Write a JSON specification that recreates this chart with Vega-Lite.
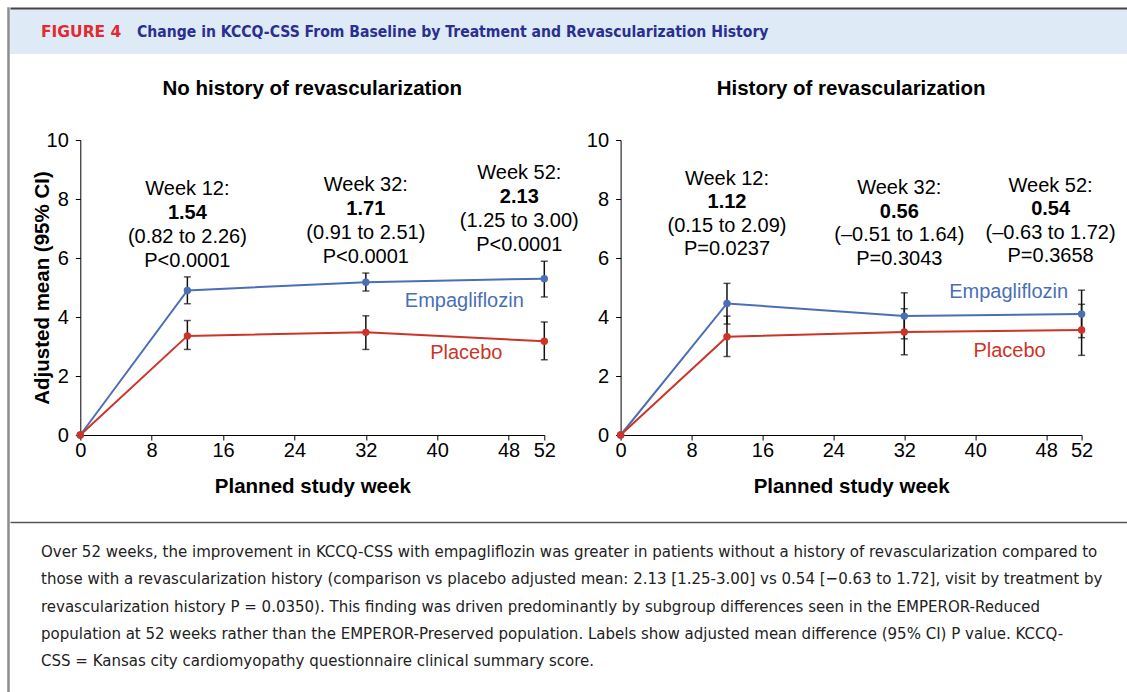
{
  "$schema": "https://vega.github.io/schema/vega-lite/v6.json",
  "padding": {"left": 7, "top": 7, "right": 0, "bottom": 0},
  "background": "white",
  "spacing": 0,
  "config": {"font": "Liberation Sans", "view": {"stroke": null}, "axis": {"grid": false}},
  "datasets": {
    "pts": [
      {"panel": "none", "treatment": "Empagliflozin", "week": 0, "mean": 0},
      {"panel": "none", "treatment": "Empagliflozin", "week": 12, "mean": 4.90, "lo": 4.45, "hi": 5.36, "head": "Week 12:", "est": "1.54", "ci": "(0.82 to 2.26)", "p": "P<0.0001"},
      {"panel": "none", "treatment": "Empagliflozin", "week": 32, "mean": 5.18, "lo": 4.88, "hi": 5.49, "head": "Week 32:", "est": "1.71", "ci": "(0.91 to 2.51)", "p": "P<0.0001"},
      {"panel": "none", "treatment": "Empagliflozin", "week": 52, "mean": 5.30, "lo": 4.68, "hi": 5.89, "head": "Week 52:", "est": "2.13", "ci": "(1.25 to 3.00)", "p": "P<0.0001"},
      {"panel": "none", "treatment": "Placebo", "week": 0, "mean": 0},
      {"panel": "none", "treatment": "Placebo", "week": 12, "mean": 3.36, "lo": 2.90, "hi": 3.88},
      {"panel": "none", "treatment": "Placebo", "week": 32, "mean": 3.48, "lo": 2.90, "hi": 4.04},
      {"panel": "none", "treatment": "Placebo", "week": 52, "mean": 3.18, "lo": 2.55, "hi": 3.83},
      {"panel": "hist", "treatment": "Empagliflozin", "week": 0, "mean": 0},
      {"panel": "hist", "treatment": "Empagliflozin", "week": 12, "mean": 4.46, "lo": 3.76, "hi": 5.14, "head": "Week 12:", "est": "1.12", "ci": "(0.15 to 2.09)", "p": "P=0.0237"},
      {"panel": "hist", "treatment": "Empagliflozin", "week": 32, "mean": 4.03, "lo": 3.26, "hi": 4.82, "head": "Week 32:", "est": "0.56", "ci": "(–0.51 to 1.64)", "p": "P=0.3043"},
      {"panel": "hist", "treatment": "Empagliflozin", "week": 52, "mean": 4.10, "lo": 3.30, "hi": 4.91, "head": "Week 52:", "est": "0.54", "ci": "(–0.63 to 1.72)", "p": "P=0.3658"},
      {"panel": "hist", "treatment": "Placebo", "week": 0, "mean": 0},
      {"panel": "hist", "treatment": "Placebo", "week": 12, "mean": 3.33, "lo": 2.66, "hi": 4.03},
      {"panel": "hist", "treatment": "Placebo", "week": 32, "mean": 3.49, "lo": 2.72, "hi": 4.28},
      {"panel": "hist", "treatment": "Placebo", "week": 52, "mean": 3.56, "lo": 2.70, "hi": 4.43}
    ]
  },
  "hconcat": [
    {
      "width": 1,
      "height": 700,
      "view": {"stroke": "#8c8c8c", "strokeWidth": 1.5},
      "data": {"values": [{}]},
      "mark": {"type": "point", "opacity": 0, "size": 0}
    },
    {
      "spacing": 0,
      "vconcat": [
        {
          "width": 1120,
          "height": 46,
          "view": {"fill": "#deeaf6", "stroke": null},
          "data": {"values": [{"fig": "FIGURE 4", "title": "Change in KCCQ-CSS From Baseline by Treatment and Revascularization History"}]},
          "layer": [
            {
              "mark": {"type": "point", "opacity": 0, "size": 0},
              "encoding": {
                "x": {"datum": 0, "type": "quantitative", "scale": {"domain": [0, 1]}, "axis": {"orient": "top", "domainColor": "#444444", "domainWidth": 2, "ticks": false, "labels": false, "grid": false, "title": null}}
              }
            },
            {
              "mark": {"type": "text", "align": "left", "baseline": "middle", "font": "DejaVu Sans", "fontWeight": "bold", "fontSize": 15.5, "color": "#e12b34"},
              "encoding": {"text": {"field": "fig"}, "x": {"value": 31}, "y": {"value": 24}}
            },
            {
              "mark": {"type": "text", "align": "left", "baseline": "middle", "font": "DejaVu Sans Condensed", "fontWeight": "bold", "fontSize": 15.6, "color": "#2b2f8f"},
              "encoding": {"text": {"field": "title"}, "x": {"value": 127}, "y": {"value": 24}}
            }
          ]
        },
        {
          "spacing": 6.3,
          "hconcat": [
            {
              "width": 15,
              "height": 382,
              "data": {"values": [{}]},
              "mark": {"type": "point", "opacity": 0, "size": 0}
            },
            {
              "width": 464,
              "height": 295,
              "title": {"text": ["", "No history of revascularization"], "fontSize": 20.5, "fontWeight": "bold", "font": "Liberation Sans", "lineHeight": 24, "offset": 31, "anchor": "middle", "frame": "group", "color": "black"},
              "data": {"name": "pts"},
              "transform": [{"filter": "datum.panel == 'none'"}],
              "encoding": {
                "x": {"field": "week", "type": "quantitative", "scale": {"domain": [0, 52], "nice": false},
                  "axis": {"values": [0, 8, 16, 24, 32, 40, 48, 52], "title": "Planned study week", "titleFontSize": 20.5, "titleFontWeight": "bold", "titleColor": "black", "titlePadding": 16, "labelFontSize": 20, "labelColor": "black", "labelPadding": 0, "tickSize": 5, "tickColor": "black", "domainColor": "black", "labelOverlap": false, "labelFlush": false, "grid": false}}
              },
              "layer": [
                {
                  "transform": [{"filter": "datum.week > 0"}],
                  "mark": {"type": "errorbar", "color": "#111111", "thickness": 1.5, "ticks": {"size": 7}},
                  "encoding": {
                    "y": {"field": "lo", "type": "quantitative", "scale": {"domain": [0, 10], "nice": false},
                      "axis": {"values": [0, 2, 4, 6, 8, 10], "title": "Adjusted mean (95% CI)", "titleFontSize": 20.5, "titleFontWeight": "bold", "titleColor": "black", "titlePadding": -6, "labelFontSize": 20, "labelColor": "black", "labelPadding": 7, "tickSize": 5, "tickColor": "black", "domainColor": "black", "grid": false}},
                    "y2": {"field": "hi"}
                  }
                },
                {
                  "mark": {"type": "line", "strokeWidth": 2, "point": {"filled": true, "size": 55}},
                  "encoding": {
                    "y": {"field": "mean", "type": "quantitative", "scale": {"domain": [0, 10], "nice": false},
                      "axis": {"values": [0, 2, 4, 6, 8, 10], "title": "Adjusted mean (95% CI)", "titleFontSize": 20.5, "titleFontWeight": "bold", "titleColor": "black", "titlePadding": -6, "labelFontSize": 20, "labelColor": "black", "labelPadding": 7, "tickSize": 5, "tickColor": "black", "domainColor": "black", "grid": false}},
                    "color": {"field": "treatment", "type": "nominal", "scale": {"domain": ["Empagliflozin", "Placebo"], "range": ["#4a6fb5", "#cc3428"]}, "legend": null}
                  }
                },
                {"transform": [{"filter": "datum.treatment == 'Empagliflozin' && datum.week > 0 && datum.week < 52"}], "mark": {"type": "text", "fontSize": 20, "baseline": "middle", "color": "black", "dy": -88}, "encoding": {"y": {"field": "hi", "type": "quantitative", "scale": {"domain": [0, 10], "nice": false}, "axis": {"values": [0, 2, 4, 6, 8, 10], "title": "Adjusted mean (95% CI)", "titleFontSize": 20.5, "titleFontWeight": "bold", "titleColor": "black", "titlePadding": -6, "labelFontSize": 20, "labelColor": "black", "labelPadding": 7, "tickSize": 5, "tickColor": "black", "domainColor": "black", "grid": false}}, "text": {"field": "head"}}},
                {"transform": [{"filter": "datum.treatment == 'Empagliflozin' && datum.week > 0 && datum.week < 52"}], "mark": {"type": "text", "fontSize": 20, "fontWeight": "bold", "baseline": "middle", "color": "black", "dy": -64}, "encoding": {"y": {"field": "hi", "type": "quantitative", "scale": {"domain": [0, 10], "nice": false}, "axis": {"values": [0, 2, 4, 6, 8, 10], "title": "Adjusted mean (95% CI)", "titleFontSize": 20.5, "titleFontWeight": "bold", "titleColor": "black", "titlePadding": -6, "labelFontSize": 20, "labelColor": "black", "labelPadding": 7, "tickSize": 5, "tickColor": "black", "domainColor": "black", "grid": false}}, "text": {"field": "est"}}},
                {"transform": [{"filter": "datum.treatment == 'Empagliflozin' && datum.week > 0 && datum.week < 52"}], "mark": {"type": "text", "fontSize": 20, "baseline": "middle", "color": "black", "dy": -40}, "encoding": {"y": {"field": "hi", "type": "quantitative", "scale": {"domain": [0, 10], "nice": false}, "axis": {"values": [0, 2, 4, 6, 8, 10], "title": "Adjusted mean (95% CI)", "titleFontSize": 20.5, "titleFontWeight": "bold", "titleColor": "black", "titlePadding": -6, "labelFontSize": 20, "labelColor": "black", "labelPadding": 7, "tickSize": 5, "tickColor": "black", "domainColor": "black", "grid": false}}, "text": {"field": "ci"}}},
                {"transform": [{"filter": "datum.treatment == 'Empagliflozin' && datum.week > 0 && datum.week < 52"}], "mark": {"type": "text", "fontSize": 20, "baseline": "middle", "color": "black", "dy": -16}, "encoding": {"y": {"field": "hi", "type": "quantitative", "scale": {"domain": [0, 10], "nice": false}, "axis": {"values": [0, 2, 4, 6, 8, 10], "title": "Adjusted mean (95% CI)", "titleFontSize": 20.5, "titleFontWeight": "bold", "titleColor": "black", "titlePadding": -6, "labelFontSize": 20, "labelColor": "black", "labelPadding": 7, "tickSize": 5, "tickColor": "black", "domainColor": "black", "grid": false}}, "text": {"field": "p"}}},
                {"transform": [{"filter": "datum.treatment == 'Empagliflozin' && datum.week == 52"}], "mark": {"type": "text", "fontSize": 20, "baseline": "middle", "color": "black", "dx": -25, "dy": -88}, "encoding": {"y": {"field": "hi", "type": "quantitative", "scale": {"domain": [0, 10], "nice": false}, "axis": {"values": [0, 2, 4, 6, 8, 10], "title": "Adjusted mean (95% CI)", "titleFontSize": 20.5, "titleFontWeight": "bold", "titleColor": "black", "titlePadding": -6, "labelFontSize": 20, "labelColor": "black", "labelPadding": 7, "tickSize": 5, "tickColor": "black", "domainColor": "black", "grid": false}}, "text": {"field": "head"}}},
                {"transform": [{"filter": "datum.treatment == 'Empagliflozin' && datum.week == 52"}], "mark": {"type": "text", "fontSize": 20, "fontWeight": "bold", "baseline": "middle", "color": "black", "dx": -25, "dy": -64}, "encoding": {"y": {"field": "hi", "type": "quantitative", "scale": {"domain": [0, 10], "nice": false}, "axis": {"values": [0, 2, 4, 6, 8, 10], "title": "Adjusted mean (95% CI)", "titleFontSize": 20.5, "titleFontWeight": "bold", "titleColor": "black", "titlePadding": -6, "labelFontSize": 20, "labelColor": "black", "labelPadding": 7, "tickSize": 5, "tickColor": "black", "domainColor": "black", "grid": false}}, "text": {"field": "est"}}},
                {"transform": [{"filter": "datum.treatment == 'Empagliflozin' && datum.week == 52"}], "mark": {"type": "text", "fontSize": 20, "baseline": "middle", "color": "black", "dx": -25, "dy": -40}, "encoding": {"y": {"field": "hi", "type": "quantitative", "scale": {"domain": [0, 10], "nice": false}, "axis": {"values": [0, 2, 4, 6, 8, 10], "title": "Adjusted mean (95% CI)", "titleFontSize": 20.5, "titleFontWeight": "bold", "titleColor": "black", "titlePadding": -6, "labelFontSize": 20, "labelColor": "black", "labelPadding": 7, "tickSize": 5, "tickColor": "black", "domainColor": "black", "grid": false}}, "text": {"field": "ci"}}},
                {"transform": [{"filter": "datum.treatment == 'Empagliflozin' && datum.week == 52"}], "mark": {"type": "text", "fontSize": 20, "baseline": "middle", "color": "black", "dx": -25, "dy": -16}, "encoding": {"y": {"field": "hi", "type": "quantitative", "scale": {"domain": [0, 10], "nice": false}, "axis": {"values": [0, 2, 4, 6, 8, 10], "title": "Adjusted mean (95% CI)", "titleFontSize": 20.5, "titleFontWeight": "bold", "titleColor": "black", "titlePadding": -6, "labelFontSize": 20, "labelColor": "black", "labelPadding": 7, "tickSize": 5, "tickColor": "black", "domainColor": "black", "grid": false}}, "text": {"field": "p"}}},
                {"transform": [{"filter": "datum.treatment == 'Empagliflozin' && datum.week == 52"}], "mark": {"type": "text", "fontSize": 20, "baseline": "middle", "dx": -80, "dy": 22}, "encoding": {"y": {"field": "mean", "type": "quantitative", "scale": {"domain": [0, 10], "nice": false}, "axis": {"values": [0, 2, 4, 6, 8, 10], "title": "Adjusted mean (95% CI)", "titleFontSize": 20.5, "titleFontWeight": "bold", "titleColor": "black", "titlePadding": -6, "labelFontSize": 20, "labelColor": "black", "labelPadding": 7, "tickSize": 5, "tickColor": "black", "domainColor": "black", "grid": false}}, "text": {"field": "treatment"}, "color": {"field": "treatment", "type": "nominal", "scale": {"domain": ["Empagliflozin", "Placebo"], "range": ["#4a6fb5", "#cc3428"]}, "legend": null}}},
                {"transform": [{"filter": "datum.treatment == 'Placebo' && datum.week == 52"}], "mark": {"type": "text", "fontSize": 20, "baseline": "middle", "dx": -78, "dy": 12}, "encoding": {"y": {"field": "mean", "type": "quantitative", "scale": {"domain": [0, 10], "nice": false}, "axis": {"values": [0, 2, 4, 6, 8, 10], "title": "Adjusted mean (95% CI)", "titleFontSize": 20.5, "titleFontWeight": "bold", "titleColor": "black", "titlePadding": -6, "labelFontSize": 20, "labelColor": "black", "labelPadding": 7, "tickSize": 5, "tickColor": "black", "domainColor": "black", "grid": false}}, "text": {"field": "treatment"}, "color": {"field": "treatment", "type": "nominal", "scale": {"domain": ["Empagliflozin", "Placebo"], "range": ["#4a6fb5", "#cc3428"]}, "legend": null}}}
              ]
            },
            {
              "width": 461,
              "height": 295,
              "title": {"text": ["", "History of revascularization"], "fontSize": 20.5, "fontWeight": "bold", "font": "Liberation Sans", "lineHeight": 24, "offset": 31, "anchor": "middle", "frame": "group", "color": "black"},
              "data": {"name": "pts"},
              "transform": [{"filter": "datum.panel == 'hist'"}],
              "encoding": {
                "x": {"field": "week", "type": "quantitative", "scale": {"domain": [0, 52], "nice": false},
                  "axis": {"values": [0, 8, 16, 24, 32, 40, 48, 52], "title": "Planned study week", "titleFontSize": 20.5, "titleFontWeight": "bold", "titleColor": "black", "titlePadding": 16, "labelFontSize": 20, "labelColor": "black", "labelPadding": 0, "tickSize": 5, "tickColor": "black", "domainColor": "black", "labelOverlap": false, "labelFlush": false, "grid": false}}
              },
              "layer": [
                {
                  "transform": [{"filter": "datum.week > 0"}],
                  "mark": {"type": "errorbar", "color": "#111111", "thickness": 1.5, "ticks": {"size": 7}},
                  "encoding": {
                    "y": {"field": "lo", "type": "quantitative", "scale": {"domain": [0, 10], "nice": false}, "axis": {"values": [0, 2, 4, 6, 8, 10], "title": null, "labelFontSize": 20, "labelColor": "black", "labelPadding": 7, "tickSize": 5, "tickColor": "black", "domainColor": "black", "grid": false}},
                    "y2": {"field": "hi"}
                  }
                },
                {
                  "mark": {"type": "line", "strokeWidth": 2, "point": {"filled": true, "size": 55}},
                  "encoding": {
                    "y": {"field": "mean", "type": "quantitative", "scale": {"domain": [0, 10], "nice": false}, "axis": {"values": [0, 2, 4, 6, 8, 10], "title": null, "labelFontSize": 20, "labelColor": "black", "labelPadding": 7, "tickSize": 5, "tickColor": "black", "domainColor": "black", "grid": false}},
                    "color": {"field": "treatment", "type": "nominal", "scale": {"domain": ["Empagliflozin", "Placebo"], "range": ["#4a6fb5", "#cc3428"]}, "legend": null}
                  }
                },
                {"transform": [{"filter": "datum.treatment == 'Empagliflozin' && datum.week == 12"}], "mark": {"type": "text", "fontSize": 20, "baseline": "middle", "color": "black", "dy": -104.5}, "encoding": {"y": {"field": "hi", "type": "quantitative", "scale": {"domain": [0, 10], "nice": false}, "axis": {"values": [0, 2, 4, 6, 8, 10], "title": null, "labelFontSize": 20, "labelColor": "black", "labelPadding": 7, "tickSize": 5, "tickColor": "black", "domainColor": "black", "grid": false}}, "text": {"field": "head"}}},
                {"transform": [{"filter": "datum.treatment == 'Empagliflozin' && datum.week == 12"}], "mark": {"type": "text", "fontSize": 20, "fontWeight": "bold", "baseline": "middle", "color": "black", "dy": -81}, "encoding": {"y": {"field": "hi", "type": "quantitative", "scale": {"domain": [0, 10], "nice": false}, "axis": {"values": [0, 2, 4, 6, 8, 10], "title": null, "labelFontSize": 20, "labelColor": "black", "labelPadding": 7, "tickSize": 5, "tickColor": "black", "domainColor": "black", "grid": false}}, "text": {"field": "est"}}},
                {"transform": [{"filter": "datum.treatment == 'Empagliflozin' && datum.week == 12"}], "mark": {"type": "text", "fontSize": 20, "baseline": "middle", "color": "black", "dy": -57.5}, "encoding": {"y": {"field": "hi", "type": "quantitative", "scale": {"domain": [0, 10], "nice": false}, "axis": {"values": [0, 2, 4, 6, 8, 10], "title": null, "labelFontSize": 20, "labelColor": "black", "labelPadding": 7, "tickSize": 5, "tickColor": "black", "domainColor": "black", "grid": false}}, "text": {"field": "ci"}}},
                {"transform": [{"filter": "datum.treatment == 'Empagliflozin' && datum.week == 12"}], "mark": {"type": "text", "fontSize": 20, "baseline": "middle", "color": "black", "dy": -34}, "encoding": {"y": {"field": "hi", "type": "quantitative", "scale": {"domain": [0, 10], "nice": false}, "axis": {"values": [0, 2, 4, 6, 8, 10], "title": null, "labelFontSize": 20, "labelColor": "black", "labelPadding": 7, "tickSize": 5, "tickColor": "black", "domainColor": "black", "grid": false}}, "text": {"field": "p"}}},
                {"transform": [{"filter": "datum.treatment == 'Empagliflozin' && datum.week == 32"}], "mark": {"type": "text", "fontSize": 20, "baseline": "middle", "color": "black", "dx": -5, "dy": -104.5}, "encoding": {"y": {"field": "hi", "type": "quantitative", "scale": {"domain": [0, 10], "nice": false}, "axis": {"values": [0, 2, 4, 6, 8, 10], "title": null, "labelFontSize": 20, "labelColor": "black", "labelPadding": 7, "tickSize": 5, "tickColor": "black", "domainColor": "black", "grid": false}}, "text": {"field": "head"}}},
                {"transform": [{"filter": "datum.treatment == 'Empagliflozin' && datum.week == 32"}], "mark": {"type": "text", "fontSize": 20, "fontWeight": "bold", "baseline": "middle", "color": "black", "dx": -5, "dy": -81}, "encoding": {"y": {"field": "hi", "type": "quantitative", "scale": {"domain": [0, 10], "nice": false}, "axis": {"values": [0, 2, 4, 6, 8, 10], "title": null, "labelFontSize": 20, "labelColor": "black", "labelPadding": 7, "tickSize": 5, "tickColor": "black", "domainColor": "black", "grid": false}}, "text": {"field": "est"}}},
                {"transform": [{"filter": "datum.treatment == 'Empagliflozin' && datum.week == 32"}], "mark": {"type": "text", "fontSize": 20, "baseline": "middle", "color": "black", "dx": -5, "dy": -57.5}, "encoding": {"y": {"field": "hi", "type": "quantitative", "scale": {"domain": [0, 10], "nice": false}, "axis": {"values": [0, 2, 4, 6, 8, 10], "title": null, "labelFontSize": 20, "labelColor": "black", "labelPadding": 7, "tickSize": 5, "tickColor": "black", "domainColor": "black", "grid": false}}, "text": {"field": "ci"}}},
                {"transform": [{"filter": "datum.treatment == 'Empagliflozin' && datum.week == 32"}], "mark": {"type": "text", "fontSize": 20, "baseline": "middle", "color": "black", "dx": -5, "dy": -34}, "encoding": {"y": {"field": "hi", "type": "quantitative", "scale": {"domain": [0, 10], "nice": false}, "axis": {"values": [0, 2, 4, 6, 8, 10], "title": null, "labelFontSize": 20, "labelColor": "black", "labelPadding": 7, "tickSize": 5, "tickColor": "black", "domainColor": "black", "grid": false}}, "text": {"field": "p"}}},
                {"transform": [{"filter": "datum.treatment == 'Empagliflozin' && datum.week == 52"}], "mark": {"type": "text", "fontSize": 20, "baseline": "middle", "color": "black", "dx": -31, "dy": -104.5}, "encoding": {"y": {"field": "hi", "type": "quantitative", "scale": {"domain": [0, 10], "nice": false}, "axis": {"values": [0, 2, 4, 6, 8, 10], "title": null, "labelFontSize": 20, "labelColor": "black", "labelPadding": 7, "tickSize": 5, "tickColor": "black", "domainColor": "black", "grid": false}}, "text": {"field": "head"}}},
                {"transform": [{"filter": "datum.treatment == 'Empagliflozin' && datum.week == 52"}], "mark": {"type": "text", "fontSize": 20, "fontWeight": "bold", "baseline": "middle", "color": "black", "dx": -31, "dy": -81}, "encoding": {"y": {"field": "hi", "type": "quantitative", "scale": {"domain": [0, 10], "nice": false}, "axis": {"values": [0, 2, 4, 6, 8, 10], "title": null, "labelFontSize": 20, "labelColor": "black", "labelPadding": 7, "tickSize": 5, "tickColor": "black", "domainColor": "black", "grid": false}}, "text": {"field": "est"}}},
                {"transform": [{"filter": "datum.treatment == 'Empagliflozin' && datum.week == 52"}], "mark": {"type": "text", "fontSize": 20, "baseline": "middle", "color": "black", "dx": -31, "dy": -57.5}, "encoding": {"y": {"field": "hi", "type": "quantitative", "scale": {"domain": [0, 10], "nice": false}, "axis": {"values": [0, 2, 4, 6, 8, 10], "title": null, "labelFontSize": 20, "labelColor": "black", "labelPadding": 7, "tickSize": 5, "tickColor": "black", "domainColor": "black", "grid": false}}, "text": {"field": "ci"}}},
                {"transform": [{"filter": "datum.treatment == 'Empagliflozin' && datum.week == 52"}], "mark": {"type": "text", "fontSize": 20, "baseline": "middle", "color": "black", "dx": -31, "dy": -34}, "encoding": {"y": {"field": "hi", "type": "quantitative", "scale": {"domain": [0, 10], "nice": false}, "axis": {"values": [0, 2, 4, 6, 8, 10], "title": null, "labelFontSize": 20, "labelColor": "black", "labelPadding": 7, "tickSize": 5, "tickColor": "black", "domainColor": "black", "grid": false}}, "text": {"field": "p"}}},
                {"transform": [{"filter": "datum.treatment == 'Empagliflozin' && datum.week == 52"}], "mark": {"type": "text", "fontSize": 20, "baseline": "middle", "dx": -73, "dy": -22}, "encoding": {"y": {"field": "mean", "type": "quantitative", "scale": {"domain": [0, 10], "nice": false}, "axis": {"values": [0, 2, 4, 6, 8, 10], "title": null, "labelFontSize": 20, "labelColor": "black", "labelPadding": 7, "tickSize": 5, "tickColor": "black", "domainColor": "black", "grid": false}}, "text": {"field": "treatment"}, "color": {"field": "treatment", "type": "nominal", "scale": {"domain": ["Empagliflozin", "Placebo"], "range": ["#4a6fb5", "#cc3428"]}, "legend": null}}},
                {"transform": [{"filter": "datum.treatment == 'Placebo' && datum.week == 52"}], "mark": {"type": "text", "fontSize": 20, "baseline": "middle", "dx": -72, "dy": 21}, "encoding": {"y": {"field": "mean", "type": "quantitative", "scale": {"domain": [0, 10], "nice": false}, "axis": {"values": [0, 2, 4, 6, 8, 10], "title": null, "labelFontSize": 20, "labelColor": "black", "labelPadding": 7, "tickSize": 5, "tickColor": "black", "domainColor": "black", "grid": false}}, "text": {"field": "treatment"}, "color": {"field": "treatment", "type": "nominal", "scale": {"domain": ["Empagliflozin", "Placebo"], "range": ["#4a6fb5", "#cc3428"]}, "legend": null}}}
              ]
            }
          ]
        },
        {
          "width": 1120,
          "height": 171,
          "data": {"values": [
            {"line": 1, "text": "Over 52 weeks, the improvement in KCCQ-CSS with empagliflozin was greater in patients without a history of revascularization compared to"},
            {"line": 2, "text": "those with a revascularization history (comparison vs placebo adjusted mean: 2.13 [1.25-3.00] vs 0.54 [−0.63 to 1.72], visit by treatment by"},
            {"line": 3, "text": "revascularization history P = 0.0350). This finding was driven predominantly by subgroup differences seen in the EMPEROR-Reduced"},
            {"line": 4, "text": "population at 52 weeks rather than the EMPEROR-Preserved population. Labels show adjusted mean difference (95% CI) P value. KCCQ-"},
            {"line": 5, "text": "CSS = Kansas city cardiomyopathy questionnaire clinical summary score."}
          ]},
          "layer": [
            {
              "mark": {"type": "point", "opacity": 0, "size": 0},
              "encoding": {
                "x": {"datum": 0, "type": "quantitative", "scale": {"domain": [0, 1]}, "axis": {"orient": "top", "domainColor": "#555555", "domainWidth": 1.5, "ticks": false, "labels": false, "grid": false, "title": null}}
              }
            },
            {
              "mark": {"type": "text", "align": "left", "baseline": "middle", "font": "DejaVu Sans Condensed", "fontSize": 16.7, "color": "#222222"},
              "encoding": {
                "text": {"field": "text"},
                "x": {"value": 31},
                "y": {"field": "line", "type": "ordinal", "scale": {"type": "point", "range": [30, 139], "padding": 0}, "axis": null}
              }
            }
          ]
        }
      ]
    }
  ]
}
